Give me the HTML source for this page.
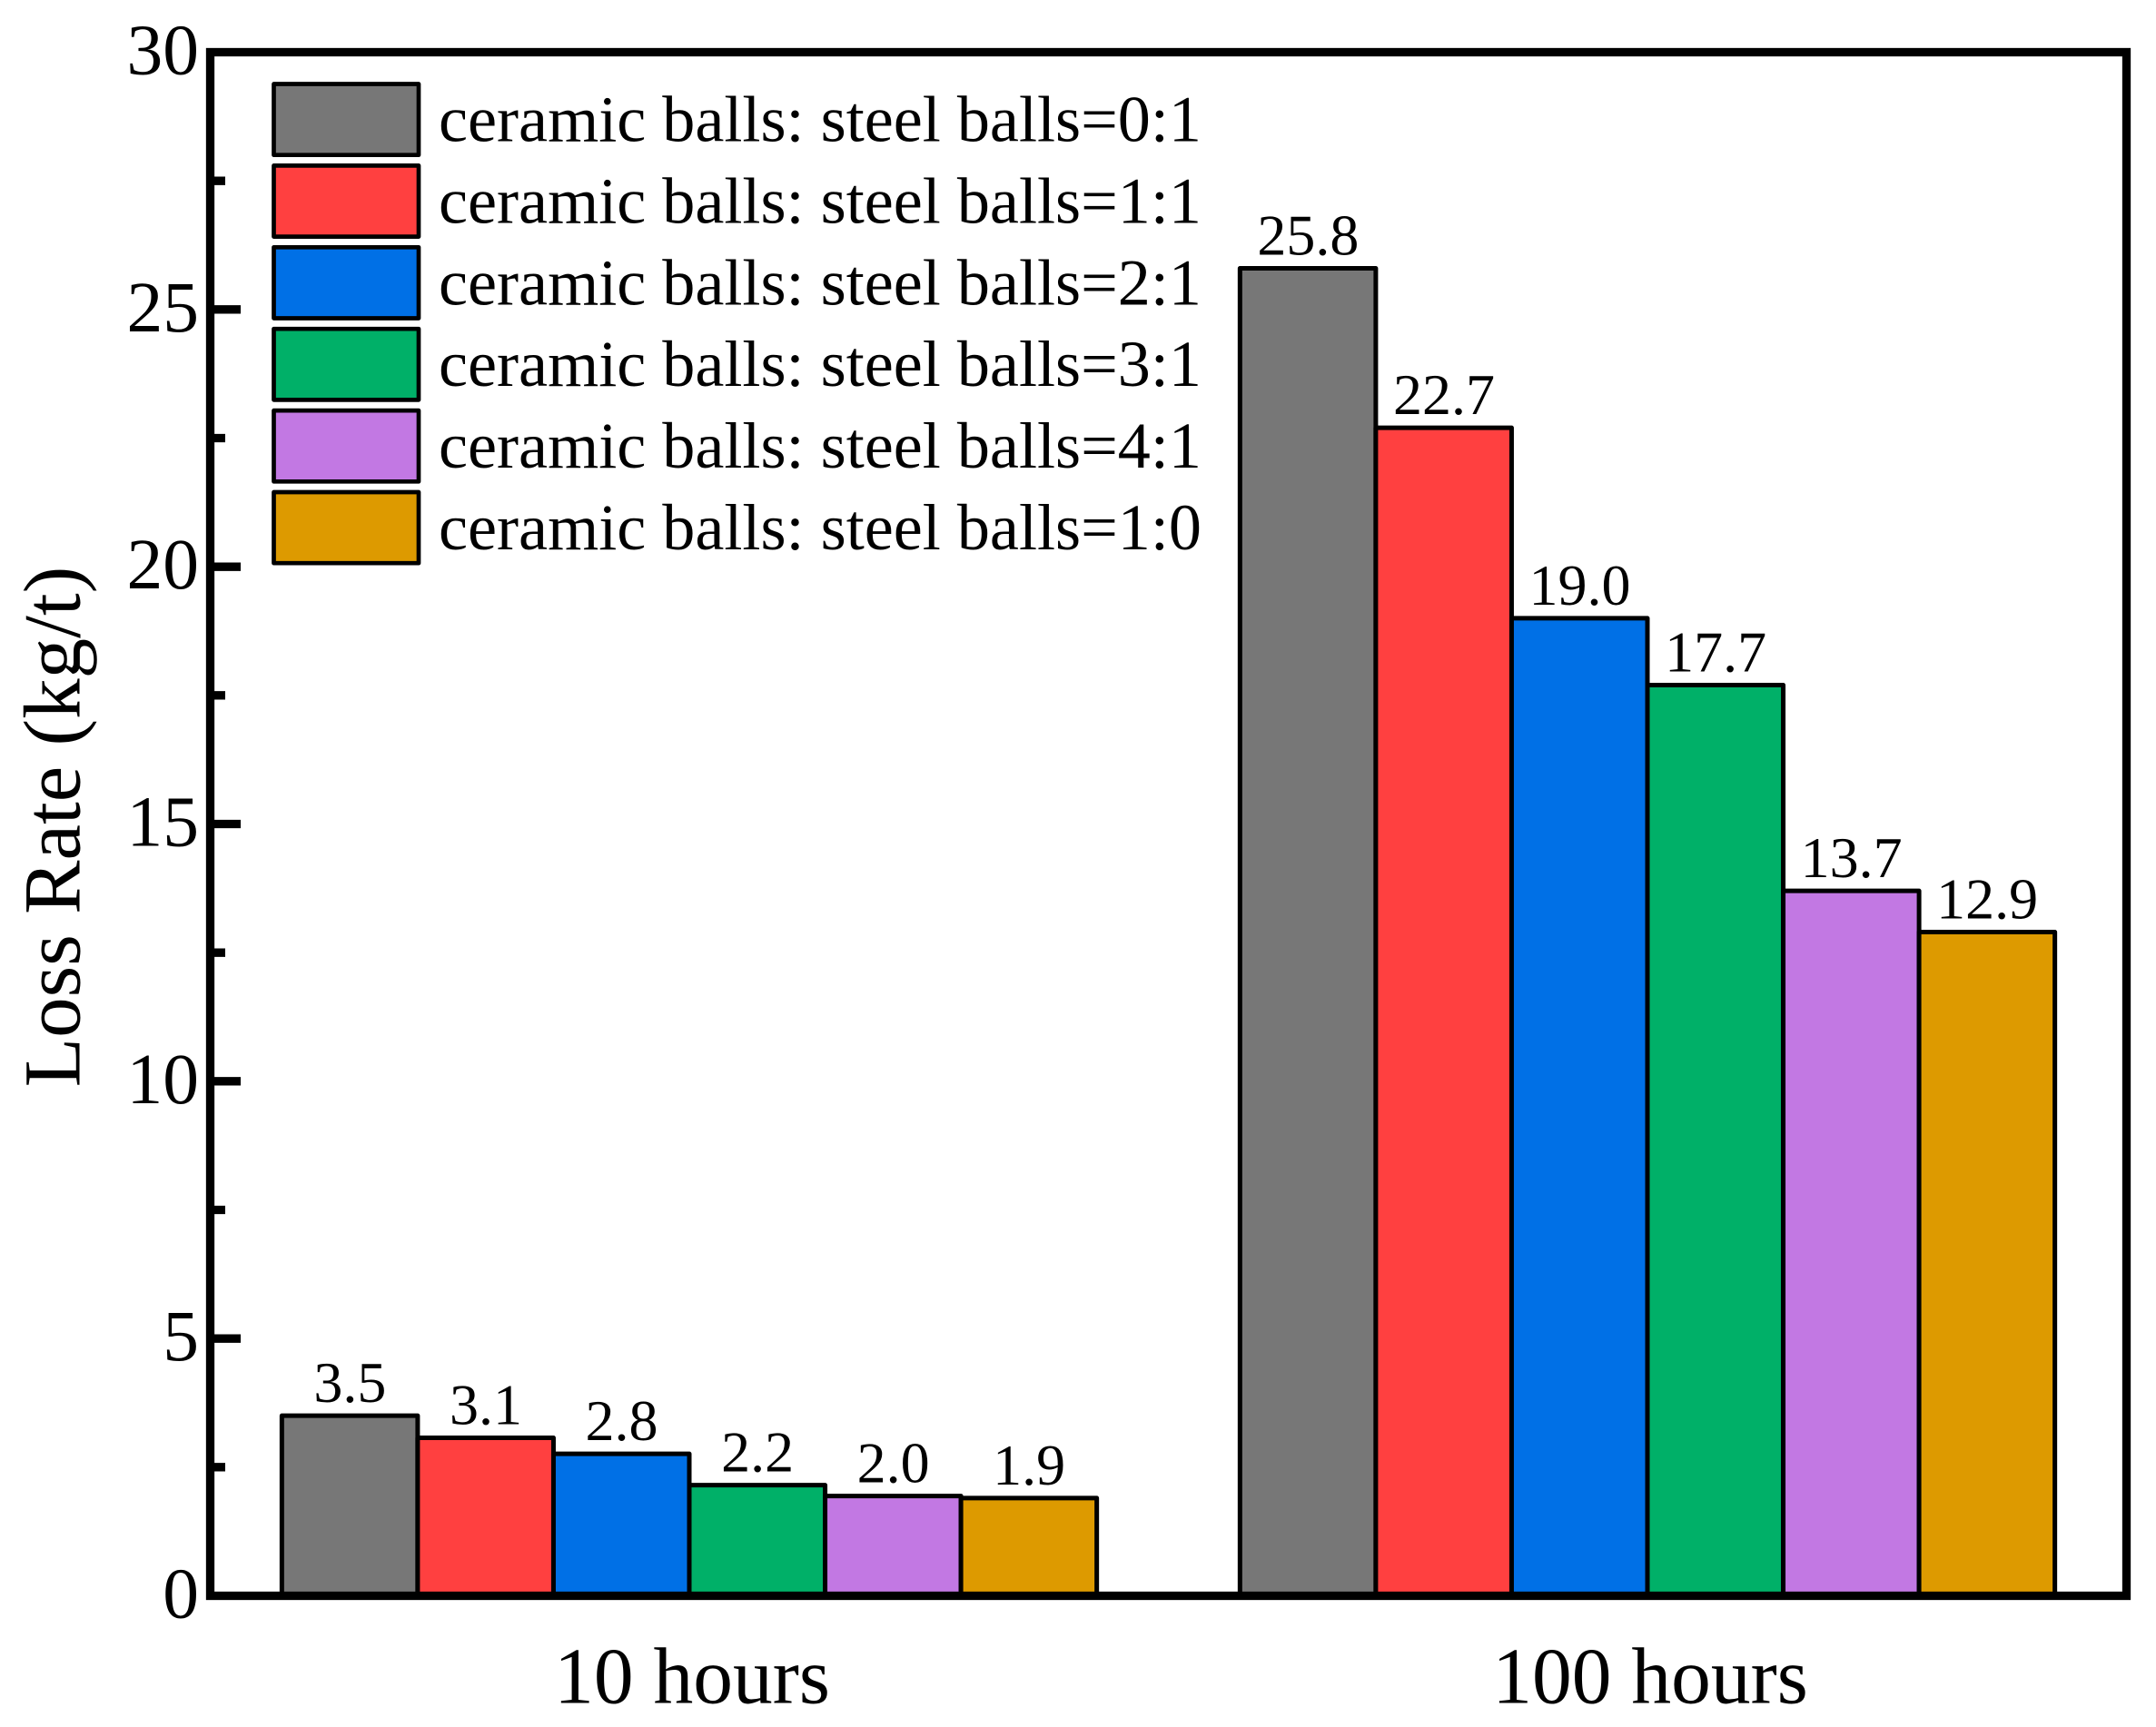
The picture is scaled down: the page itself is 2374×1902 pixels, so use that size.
<!DOCTYPE html>
<html lang="en">
<head>
<meta charset="utf-8">
<title>Loss Rate bar chart</title>
<style>
  html, body { margin: 0; padding: 0; background: #fff; }
  svg { display: block; }
  text { font-family: "Liberation Serif", serif; fill: #000; }
</style>
</head>
<body>
<svg id="chart" width="2374" height="1902" viewBox="0 0 2374 1902" xmlns="http://www.w3.org/2000/svg"></svg>
<script>
// ---- chart data ----
const categories = ['10 hours', '100 hours'];
const seriesNames = [
  'ceramic balls: steel balls=0:1',
  'ceramic balls: steel balls=1:1',
  'ceramic balls: steel balls=2:1',
  'ceramic balls: steel balls=3:1',
  'ceramic balls: steel balls=4:1',
  'ceramic balls: steel balls=1:0'
];
const ratio01Values = [3.5, 25.8];
const ratio11Values = [3.07, 22.7];
const ratio21Values = [2.76, 19.0];
const ratio31Values = [2.15, 17.7];
const ratio41Values = [1.94, 13.7];
const ratio10Values = [1.9, 12.9];
const ratio01Labels = ['3.5', '25.8'];
const ratio11Labels = ['3.1', '22.7'];
const ratio21Labels = ['2.8', '19.0'];
const ratio31Labels = ['2.2', '17.7'];
const ratio41Labels = ['2.0', '13.7'];
const ratio10Labels = ['1.9', '12.9'];
const yMajorTicks = [0, 5, 10, 15, 20, 25, 30];
const yMinorTicks = [2.5, 7.5, 12.5, 17.5, 22.5, 27.5];

// ---- layout ----
const NS = 'http://www.w3.org/2000/svg';
const svg = document.getElementById('chart');
const plot = { left: 231.5, right: 2341.5, top: 57.5, bottom: 1757.5 };
const yMax = 30;
const allValues = [ratio01Values, ratio11Values, ratio21Values, ratio31Values, ratio41Values, ratio10Values];
const allLabels = [ratio01Labels, ratio11Labels, ratio21Labels, ratio31Labels, ratio41Labels, ratio10Labels];
const fills = ['#777777', '#ff4040', '#0070e6', '#00b068', '#c278e3', '#dd9a00'];
const barWidth = 149.55;

function yScale(v) {
  return plot.bottom - (v / yMax) * (plot.bottom - plot.top);
}
function xCategory(i) {
  const step = (plot.right - plot.left) / categories.length;
  return plot.left + step * (i + 0.5);
}
function xBar(catIndex, seriesIndex) {
  return xCategory(catIndex) - (allValues.length / 2) * barWidth + seriesIndex * barWidth;
}
function make(tag, attrs, parent, content) {
  const el = document.createElementNS(NS, tag);
  for (const k in attrs) el.setAttribute(k, attrs[k]);
  if (content !== undefined) el.textContent = content;
  (parent || svg).appendChild(el);
  return el;
}

// ---- bars and value labels ----
categories.forEach(function (cat, c) {
  const group = make('g', {});
  
  
  allValues.forEach(function (vals, s) {
    const y = yScale(vals[c]);
    const bar = make('rect', {
      x: xBar(c, s), y: y, width: barWidth, height: plot.bottom - y,
      fill: fills[s], stroke: '#000', 'stroke-width': 5, 'stroke-linejoin': 'round'
    }, group);
    
    
  });
  allValues.forEach(function (vals, s) {
    const label = make('text', {
      x: xBar(c, s) + barWidth / 2 + 0.3, y: yScale(vals[c]) - 15,
      'font-size': 64, 'text-anchor': 'middle'
    }, group, allLabels[s][c]);
    
    
  });
});

// ---- frame ----
const frame = make('rect', {
  x: plot.left, y: plot.top, width: plot.right - plot.left, height: plot.bottom - plot.top,
  fill: 'none', stroke: '#000', 'stroke-width': 9.3
});



// ---- y axis ticks ----
yMajorTicks.forEach(function (t) {
  if (t > 0 && t < yMax) {
    const tick = make('line', {
      x1: plot.left, x2: 265, y1: yScale(t), y2: yScale(t), stroke: '#000', 'stroke-width': 9.3
    });
    
    
  }
  const lab = make('text', {
    x: 219, y: yScale(t) + 24, 'font-size': 79.5, 'text-anchor': 'end'
  }, svg, String(t));
  
  
});
yMinorTicks.forEach(function (t) {
  const tick = make('line', {
    x1: plot.left, x2: 248, y1: yScale(t), y2: yScale(t), stroke: '#000', 'stroke-width': 9.3
  });
  
  
});

// ---- x category labels ----
categories.forEach(function (cat, c) {
  const lab = make('text', {
    x: xCategory(c) + 3, y: 1875.5, 'font-size': 87.5, 'text-anchor': 'middle'
  }, svg, cat);
  
  
});

// ---- y axis title ----
const yTitle = make('text', {
  x: 0, y: 0, 'font-size': 89, 'text-anchor': 'middle',
  transform: 'translate(87.5 910.5) rotate(-90)'
}, svg, 'Loss Rate (kg/t)');



// ---- legend ----
const legend = make('g', {});


seriesNames.forEach(function (name, s) {
  const top = 92.5 + s * 89.9;
  const swatch = make('rect', {
    x: 301.5, y: top, width: 159.5, height: 78.2,
    fill: fills[s], stroke: '#000', 'stroke-width': 4.7, 'stroke-linejoin': 'round'
  }, legend);
  
  
  const txt = make('text', {
    x: 483, y: 155.5 + s * 89.9, 'font-size': 72.15
  }, legend, name);
  
  
});
</script>
</body>
</html>
